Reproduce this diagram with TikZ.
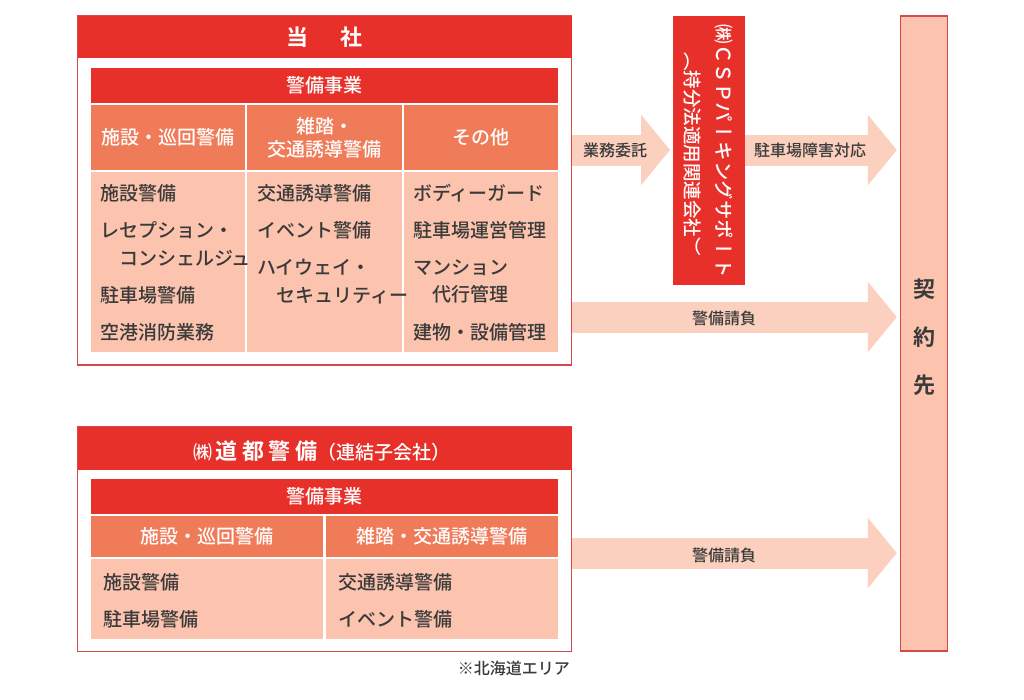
\documentclass[tikz,border=0pt]{standalone}
\usepackage{fontspec}
\setmainfont{Noto Sans CJK JP}[UprightFont=* Medium, BoldFont=* Bold]
\newfontfamily\tatefont{Noto Sans CJK JP}[UprightFont=* Medium, Vertical=RotatedGlyphs]
\usetikzlibrary{arrows.meta}
\definecolor{csred}{HTML}{E8302A}
\definecolor{cssalmon}{HTML}{EF7B58}
\definecolor{cspale}{HTML}{FCC4AE}
\definecolor{csarrow}{HTML}{FBD0BE}
\definecolor{csline}{HTML}{D44A48}
\definecolor{cstext}{HTML}{3A3A3A}
\tikzset{
outerframe/.style={draw=csline, line width=1.4pt, fill=white, inner sep=0pt, outer sep=0pt},
redbar/.style={fill=csred, text=white, inner sep=0pt, outer sep=0pt},
subcell/.style={fill=cssalmon, text=white, inner sep=0pt, outer sep=0pt, align=center},
bodycell/.style={fill=cspale, inner sep=0pt, outer sep=0pt},
entry/.style={anchor=west, inner sep=0pt, align=left, font=\fontsize{19}{27.5}\selectfont},
flow/.style={draw=csarrow, line width=31pt, -{Triangle[length=29pt,width=69pt]}, shorten >=3pt},
flowlabel/.style={inner sep=0pt, font=\fontsize{16}{18}\selectfont},
tate/.style={rotate=-90, text=white, inner sep=0pt, font=\tatefont\fontsize{19.5}{20}\selectfont}
}
\begin{document}
\begin{tikzpicture}[x=1pt, y=-1pt,
font=\fontsize{19}{23}\selectfont, text=cstext]
\useasboundingbox (0,0) rectangle (1024,699);
% 当社
\node[outerframe, minimum width=494pt, minimum height=349pt] (tosha) at (324.5,190.5) {};
\node[redbar, minimum width=494pt, minimum height=42pt, font=\bfseries\fontsize{22}{24}\selectfont] (toshahead) at (324.5,37) {当\hspace{1.45em}社};
\node[redbar, minimum width=467pt, minimum height=35pt] (toshakeibi) at (324.5,85.5) {警備事業};
\node[subcell, minimum width=154pt, minimum height=65pt] (tsub1) at (168,137.5) {施設・巡回警備};
\node[subcell, minimum width=155pt, minimum height=65pt] (tsub2) at (324.5,137.5) {雑踏・\\交通誘導警備};
\node[subcell, minimum width=154pt, minimum height=65pt] (tsub3) at (481,137.5) {その他};
\node[bodycell, minimum width=154pt, minimum height=180pt] (tbody1) at (168,262) {};
\node[bodycell, minimum width=155pt, minimum height=180pt] (tbody2) at (324.5,262) {};
\node[bodycell, minimum width=154pt, minimum height=180pt] (tbody3) at (481,262) {};
\node[entry] (t11) at (100,193) {施設警備};
\node[entry] (t12) at (100,244) {レセプション・\\\hspace*{1em}コンシェルジュ};
\node[entry] (t13) at (100,295) {駐車場警備};
\node[entry] (t14) at (100,332) {空港消防業務};
\node[entry] (t21) at (257,193) {交通誘導警備};
\node[entry] (t22) at (257,230) {イベント警備};
\node[entry] (t23) at (257,281.5) {ハイウェイ・\\\hspace*{1em}セキュリティー};
\node[entry] (t31) at (413,193) {ボディーガード};
\node[entry] (t32) at (413,230) {駐車場運営管理};
\node[entry] (t33) at (413,281.5) {マンション\\\hspace*{1em}代行管理};
\node[entry] (t34) at (413,332) {建物・設備管理};
% 道都警備
\node[outerframe, minimum width=494pt, minimum height=224.5pt] (doto) at (324.5,539.25) {};
\node[redbar, minimum width=494pt, minimum height=43pt] (dotohead) at (324.5,448.5) {};
\node[text=white, inner sep=0pt] (dototitle) at (322,451) {㈱\hspace{0.15em}{\bfseries\fontsize{22}{24}\selectfont 道\hspace{0.2em}都\hspace{0.2em}警\hspace{0.2em}備}（連結子会社）};
\node[redbar, minimum width=467pt, minimum height=35pt] (dotokeibi) at (324.5,496.5) {警備事業};
\node[subcell, minimum width=232pt, minimum height=41pt] (dsub1) at (207,536.5) {施設・巡回警備};
\node[subcell, minimum width=232pt, minimum height=41pt] (dsub2) at (442,536.5) {雑踏・交通誘導警備};
\node[bodycell, minimum width=232pt, minimum height=80pt] (dbody1) at (207,599) {};
\node[bodycell, minimum width=232pt, minimum height=80pt] (dbody2) at (442,599) {};
\node[entry] (d11) at (103,582) {施設警備};
\node[entry] (d12) at (103,619) {駐車場警備};
\node[entry] (d21) at (338,582) {交通誘導警備};
\node[entry] (d22) at (338,619) {イベント警備};
\node[flowlabel, anchor=east] (area) at (570,668) {※北海道エリア};
% CSP and 契約先
\node[redbar, minimum width=72pt, minimum height=269pt] (csp) at (709,150.5) {};
\node[tate] (cspname) at (724,151.5) {㈱ＣＳＰパーキングサポート};
\node[tate, font=\tatefont\fontsize{18.5}{20}\selectfont] (cspnote) at (692,154) {（持分法適用関連会社）};
\node[draw=csline, line width=1.4pt, fill=cspale, inner sep=0pt, minimum width=47pt, minimum height=635pt] (keiyaku) at (924,333.5) {};
\node[align=center, inner sep=0pt, font=\bfseries\fontsize{22}{48}\selectfont] (keiyakutext) at (924,337) {契\\約\\先};
% arrows
\coordinate (row1) at (0,150);
\coordinate (row2) at (0,317);
\coordinate (row3) at (0,553);
\draw[flow] (tosha.east |- row1) -- (csp.west |- row1);
\draw[flow] (csp.east |- row1) -- (keiyaku.west |- row1);
\draw[flow] (tosha.east |- row2) -- (keiyaku.west |- row2);
\draw[flow] (doto.east |- row3) -- (keiyaku.west |- row3);
\node[flowlabel] (l1) at (615,150) {業務委託};
\node[flowlabel] (l2) at (810,150) {駐車場障害対応};
\node[flowlabel] (l3) at (724,318) {警備請負};
\node[flowlabel] (l4) at (724,555) {警備請負};
\end{tikzpicture}
\end{document}
